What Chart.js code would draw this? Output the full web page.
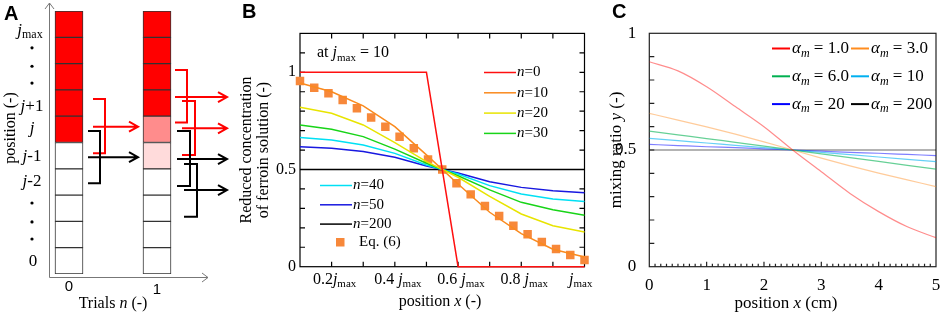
<!DOCTYPE html>
<html>
<head>
<meta charset="utf-8">
<script src="https://cdn.jsdelivr.net/npm/chart.js@4.4.1/dist/chart.umd.min.js"></script>
<style>
  body { margin: 0; background: #fff; width: 941px; height: 315px; position: relative; overflow: hidden; }
  canvas { position: absolute; top: 0; }
</style>
</head>
<body>
<canvas id="chartA" width="230" height="315" style="left:0px"></canvas>
<canvas id="chartB" width="370" height="315" style="left:230px"></canvas>
<canvas id="chartC" width="341" height="315" style="left:600px"></canvas>
<script>
// ---- panel A: cells, bottom (0) to top (jmax)
const trials = ['0', '1'];
const conc0 = [0, 0, 0, 0, 0, 1, 1, 1, 1, 1];
const conc1 = [0, 0, 0, 0, 0.14, 0.45, 1, 1, 1, 1];
const rowLabels = ['jmax', '.', '.', '.', 'j+1', 'j', 'j-1', 'j-2', '.', '.', '.', '0'];
const rowLabelPos = [9.2, 8.6, 7.9, 7.26, 6.35, 5.55, 4.45, 3.5, 2.7, 1.98, 1.33, 0.46];

// ---- panel B: n = trials, x in units of jmax
const posB = [0.1, 0.2, 0.3, 0.4, 0.5, 0.6, 0.7, 0.8, 0.9, 1.0];
const n0 = [1, 1, 1, 1, 1, 0, 0, 0, 0, 0];
const n10 = [0.945, 0.90, 0.827, 0.72, 0.575, 0.425, 0.28, 0.17, 0.09, 0.05];
const n20 = [0.82, 0.789, 0.729, 0.638, 0.54, 0.46, 0.362, 0.271, 0.211, 0.178];
const n30 = [0.729, 0.707, 0.669, 0.605, 0.532, 0.468, 0.395, 0.331, 0.293, 0.265];
const n40 = [0.664, 0.652, 0.626, 0.583, 0.523, 0.477, 0.417, 0.374, 0.348, 0.335];
const n50 = [0.617, 0.609, 0.592, 0.563, 0.518, 0.482, 0.437, 0.408, 0.391, 0.38];
const n200 = [0.5, 0.5, 0.5, 0.5, 0.5, 0.5, 0.5, 0.5, 0.5, 0.5];
const eqPos = [0.1, 0.145, 0.19, 0.235, 0.28, 0.325, 0.37, 0.415, 0.46, 0.505, 0.55,
               0.595, 0.64, 0.685, 0.73, 0.775, 0.82, 0.865, 0.91, 0.955, 1.0];
const eq6 = [0.955, 0.921, 0.892, 0.858, 0.815, 0.768, 0.72, 0.669, 0.609, 0.552, 0.5,
             0.429, 0.372, 0.312, 0.261, 0.211, 0.167, 0.127, 0.091, 0.06, 0.034];
const xTickLabelsB = ['0.2', '0.4 ', '0.6 ', '0.8 ', ''];

// ---- panel C: mixing ratio vs position (cm)
const posC = [0, 0.5, 1, 1.5, 2, 2.5, 3, 3.5, 4, 4.5, 5];
const alpha1 = [0.878, 0.839, 0.771, 0.686, 0.6, 0.5, 0.407, 0.314, 0.236, 0.171, 0.124];
const alpha3 = [0.657, 0.628, 0.599, 0.568, 0.535, 0.5, 0.465, 0.432, 0.401, 0.372, 0.343];
const alpha6 = [0.581, 0.565, 0.549, 0.533, 0.517, 0.5, 0.483, 0.467, 0.451, 0.434, 0.418];
const alpha10 = [0.55, 0.54, 0.53, 0.52, 0.51, 0.5, 0.49, 0.48, 0.47, 0.46, 0.45];
const alpha20 = [0.524, 0.519, 0.514, 0.51, 0.505, 0.5, 0.495, 0.49, 0.486, 0.481, 0.476];
const alpha200 = [0.5, 0.5, 0.5, 0.5, 0.5, 0.5, 0.5, 0.5, 0.5, 0.5, 0.5];
const alphaLabels = ['1.0', '3.0', '6.0', '10', '20', '200'];

const SERIF = '"Liberation Serif", "Times New Roman", serif';
const SANS = '"Liberation Sans", Arial, sans-serif';

// text made of pieces: '' normal, 'i' italic, 'sub' subscript, 'isub' italic subscript
function richText(ctx, parts, x, y, size, align) {
  const fontOf = k => {
    const s = (k === 'sub' || k === 'isub') ? Math.round(size * 0.68) : size;
    return ((k === 'i' || k === 'isub') ? 'italic ' : '') + s + 'px ' + SERIF;
  };
  let w = 0;
  parts.forEach(p => { ctx.font = fontOf(p[1]); w += ctx.measureText(p[0]).width; });
  let cx = align === 'center' ? x - w / 2 : align === 'right' ? x - w : x;
  ctx.textAlign = 'left';
  ctx.textBaseline = 'middle';
  parts.forEach(p => {
    ctx.font = fontOf(p[1]);
    const dy = (p[1] === 'sub' || p[1] === 'isub') ? size * 0.3 : 0;
    ctx.fillText(p[0], cx, y + dy);
    cx += ctx.measureText(p[0]).width;
  });
}

function panelLetter(ctx, letter, x, y) {
  ctx.fillStyle = '#000';
  ctx.font = 'bold 20px ' + SANS;
  ctx.textAlign = 'left';
  ctx.textBaseline = 'middle';
  ctx.fillText(letter, x, y);
}

// ================= A =================
function cellColor(c) {
  const g = Math.round(255 * (1 - c));
  return 'rgb(255,' + g + ',' + g + ')';
}

// mixing brackets: x in px, y in cell units
const RED = '#ff0000';
const brackets = [
  { x1: 93, xv: 105, top: 6.65, bottom: 4.59, y: 5.6, x2: 138, color: RED },
  { x1: 88, xv: 100, top: 5.44, bottom: 3.45, y: 4.44, x2: 138, color: '#000' },
  { x1: 175, xv: 187, top: 7.76, bottom: 5.76, y: 6.73, x2: 227, color: RED },
  { x1: 182, xv: 195, top: 6.58, bottom: 4.52, y: 5.54, x2: 227, color: RED },
  { x1: 177, xv: 190, top: 5.44, bottom: 3.35, y: 4.37, x2: 227, color: '#000' },
  { x1: 184, xv: 197, top: 4.18, bottom: 2.18, y: 3.19, x2: 227, color: '#000' }
];

const decorA = {
  id: 'decorA',
  afterDatasetsDraw(chart) {
    const { ctx, scales: { x, y } } = chart;
    ctx.save();
    // axes with open arrow heads
    ctx.strokeStyle = '#777';
    ctx.lineWidth = 1;
    ctx.beginPath();
    ctx.moveTo(49.5, 277.5); ctx.lineTo(49.5, 3);
    ctx.moveTo(45, 9); ctx.lineTo(49.5, 3); ctx.lineTo(54, 9);
    ctx.moveTo(49.5, 277.5); ctx.lineTo(208, 277.5);
    ctx.moveTo(202, 273); ctx.lineTo(208, 277.5); ctx.lineTo(202, 282);
    ctx.stroke();

    // brackets and arrows
    ctx.lineWidth = 2;
    brackets.forEach(b => {
      const t = y.getPixelForValue(b.top), bt = y.getPixelForValue(b.bottom), ay = y.getPixelForValue(b.y);
      ctx.strokeStyle = b.color;
      ctx.beginPath();
      ctx.moveTo(b.x1, t); ctx.lineTo(b.xv, t); ctx.lineTo(b.xv, bt); ctx.lineTo(b.x1, bt);
      ctx.moveTo(b.x1, ay); ctx.lineTo(b.x2, ay);
      ctx.moveTo(b.x2 - 9, ay - 5); ctx.lineTo(b.x2, ay); ctx.lineTo(b.x2 - 9, ay + 5);
      ctx.stroke();
    });

    // row labels
    ctx.fillStyle = '#000';
    rowLabels.forEach((lab, i) => {
      const py = y.getPixelForValue(rowLabelPos[i]);
      if (lab === '.') {
        ctx.beginPath(); ctx.arc(32, py, 1.6, 0, Math.PI * 2); ctx.fill();
      } else if (lab === 'jmax') {
        richText(ctx, [['j', 'i'], ['max', 'sub']], 30, py - 2, 17, 'center');
      } else if (lab === '0') {
        richText(ctx, [['0', '']], 33, py, 17, 'center');
      } else {
        richText(ctx, [['j', 'i'], [lab.slice(1), '']], 32, py, 17, 'center');
      }
    });

    // trial labels
    ctx.font = '15px ' + SANS;
    ctx.textAlign = 'center';
    ctx.textBaseline = 'middle';
    ctx.fillText(trials[0], x.getPixelForValue(0), 287);
    ctx.fillText(trials[1], x.getPixelForValue(1), 290);

    richText(ctx, [['Trials ', ''], ['n', 'i'], [' (-)', '']], 113, 304, 16, 'center');
    ctx.save();
    ctx.translate(11, 128);
    ctx.rotate(-Math.PI / 2);
    richText(ctx, [['position (-)', '']], 0, 0, 16, 'center');
    ctx.restore();

    panelLetter(ctx, 'A', 4, 14);
    ctx.restore();
  }
};

new Chart(document.getElementById('chartA'), {
  type: 'bar',
  data: {
    labels: trials,
    datasets: conc0.map((c, i) => ({
      data: [1, 1],
      backgroundColor: [cellColor(conc0[i]), cellColor(conc1[i])],
      borderColor: '#333',
      borderWidth: 1,
      borderSkipped: false,
      barThickness: 28
    }))
  },
  options: {
    responsive: false,
    animation: false,
    events: [],
    layout: { padding: { left: 25, right: 29, top: 11, bottom: 41 } },
    plugins: { legend: { display: false }, tooltip: { enabled: false } },
    scales: {
      x: { stacked: true, display: false },
      y: { stacked: true, min: 0, max: 10, display: false }
    }
  },
  plugins: [decorA]
});

// ================= B =================
const seriesB = [
  { n: '0', data: n0, color: '#ff1010' },
  { n: '10', data: n10, color: '#fa8a1e' },
  { n: '20', data: n20, color: '#e8e400' },
  { n: '30', data: n30, color: '#18d418' },
  { n: '40', data: n40, color: '#00e0f4' },
  { n: '50', data: n50, color: '#1818e0' },
  { n: '200', data: n200, color: '#000000' }
];
const SQUARE = '#f7883a';

const decorB = {
  id: 'decorB',
  beforeDatasetsDraw(chart) {
    const { ctx, chartArea: a, scales: { x, y } } = chart;
    ctx.save();
    ctx.strokeStyle = '#000';
    ctx.lineWidth = 1.2;
    ctx.strokeRect(a.left, a.top, a.right - a.left, a.bottom - a.top);
    ctx.beginPath();
    for (let k = 1; k <= 11; k++) {
      const py = y.getPixelForValue(k / 10);
      ctx.moveTo(a.left, py); ctx.lineTo(a.left + 5, py);
      ctx.moveTo(a.right, py); ctx.lineTo(a.right - 5, py);
    }
    for (let k = 2; k <= 9; k++) {
      const px = x.getPixelForValue(k / 10);
      ctx.moveTo(px, a.top); ctx.lineTo(px, a.top + 5);
      ctx.moveTo(px, a.bottom); ctx.lineTo(px, a.bottom - 5);
    }
    ctx.stroke();

    ctx.fillStyle = '#000';
    [[0, '0'], [0.5, '0.5'], [1, '1']].forEach(t => {
      richText(ctx, [[t[1], '']], a.left - 4, y.getPixelForValue(t[0]), 16, 'right');
    });
    xTickLabelsB.forEach((lab, i) => {
      const v = (i + 1) * 0.2;
      const px = x.getPixelForValue(v);
      if (i === 4) {
        richText(ctx, [['j', 'i'], ['max', 'sub']], px + 8, a.bottom + 13, 16, 'right');
      } else {
        richText(ctx, [[lab, ''], ['j', 'i'], ['max', 'sub']], px + 3, a.bottom + 13, 16, 'center');
      }
    });
    richText(ctx, [['position ', ''], ['x', 'i'], [' (-)', '']], 210, 302, 16, 'center');
    ctx.save();
    ctx.translate(17, 150);
    ctx.rotate(-Math.PI / 2);
    richText(ctx, [['Reduced concentration', '']], 0, 0, 16, 'center');
    richText(ctx, [['of ferroin solution (-)', '']], 0, 17, 16, 'center');
    ctx.restore();
    richText(ctx, [['at ', ''], ['j', 'i'], ['max', 'sub'], [' = 10', '']], 87, 53, 16, 'left');
    panelLetter(ctx, 'B', 12, 12);
    ctx.restore();
  },
  afterDatasetsDraw(chart) {
    const { ctx } = chart;
    ctx.save();
    ctx.lineWidth = 1.5;
    ctx.fillStyle = '#000';
    const item = (s, lx, ly) => {
      ctx.strokeStyle = s.color;
      ctx.beginPath(); ctx.moveTo(lx, ly); ctx.lineTo(lx + 32, ly); ctx.stroke();
      richText(ctx, [['n', 'i'], ['=' + s.n, '']], lx + 33, ly, 15, 'left');
    };
    seriesB.slice(0, 4).forEach((s, i) => item(s, 254, 72.5 + i * 20.3));
    seriesB.slice(4).forEach((s, i) => item(s, 90, 185.5 + i * 19.3));
    ctx.fillStyle = SQUARE;
    ctx.fillRect(106, 238, 8.5, 8.5);
    ctx.fillStyle = '#000';
    richText(ctx, [['Eq. (6)', '']], 129, 242, 15, 'left');
    ctx.restore();
  }
};

new Chart(document.getElementById('chartB'), {
  type: 'line',
  data: {
    datasets: seriesB.map(s => ({
      label: 'n=' + s.n,
      data: posB.map((p, i) => ({ x: p, y: s.data[i] })),
      borderColor: s.color,
      borderWidth: 1.5,
      pointRadius: 0,
      tension: 0,
      clip: 4
    })).concat([{
      label: 'Eq. (6)',
      data: eqPos.map((p, i) => ({ x: p, y: eq6[i] })),
      showLine: false,
      pointStyle: 'rect',
      pointRadius: 6,
      pointBackgroundColor: SQUARE,
      pointBorderWidth: 0,
      clip: 6
    }])
  },
  options: {
    responsive: false,
    animation: false,
    events: [],
    layout: { padding: { left: 70, right: 15.5, top: 33.4, bottom: 48.3 } },
    plugins: { legend: { display: false }, tooltip: { enabled: false } },
    scales: {
      x: { type: 'linear', min: 0.1, max: 1.0, display: false },
      y: { type: 'linear', min: 0, max: 1.2, display: false }
    }
  },
  plugins: [decorB]
});

// ================= C =================
const seriesC = [
  { data: alpha1, color: '255,0,0', fade: 0.45 },
  { data: alpha3, color: '255,140,30', fade: 0.45 },
  { data: alpha6, color: '0,176,80', fade: 0.6 },
  { data: alpha10, color: '0,176,240', fade: 0.6 },
  { data: alpha20, color: '0,0,255', fade: 0.5 },
  { data: alpha200, color: '0,0,0', fade: 0.4 }
];

const decorC = {
  id: 'decorC',
  beforeDatasetsDraw(chart) {
    const { ctx, chartArea: a, scales: { x, y } } = chart;
    ctx.save();
    ctx.strokeStyle = '#222';
    ctx.lineWidth = 1.2;
    ctx.strokeRect(a.left, a.top, a.right - a.left, a.bottom - a.top);
    ctx.beginPath();
    for (let k = 1; k <= 9; k++) {
      const py = y.getPixelForValue(k / 10);
      ctx.moveTo(a.left, py); ctx.lineTo(a.left + 5, py);
    }
    for (let k = 1; k < 50; k++) {
      const px = x.getPixelForValue(k / 10);
      ctx.moveTo(px, a.bottom); ctx.lineTo(px, a.bottom - (k % 10 === 0 ? 5 : 3));
    }
    ctx.stroke();
    ctx.fillStyle = '#000';
    [[0, '0'], [0.5, '0.5'], [1, '1']].forEach(t => {
      richText(ctx, [[t[1], '']], a.left - 13, y.getPixelForValue(t[0]), 17, 'right');
    });
    for (let k = 0; k <= 5; k++) {
      richText(ctx, [[String(k), '']], x.getPixelForValue(k), a.bottom + 19, 17, 'center');
    }
    richText(ctx, [['position ', ''], ['x', 'i'], [' (cm)', '']], 186, 304, 17, 'center');
    ctx.save();
    ctx.translate(17, 150);
    ctx.rotate(-Math.PI / 2);
    richText(ctx, [['mixing ratio ', ''], ['y', 'i'], [' (-)', '']], 0, 0, 17, 'center');
    ctx.restore();
    panelLetter(ctx, 'C', 12, 12);
    ctx.restore();
  },
  afterDatasetsDraw(chart) {
    const { ctx } = chart;
    ctx.save();
    ctx.lineWidth = 2;
    ctx.fillStyle = '#000';
    seriesC.forEach((s, i) => {
      const lx = i % 2 === 0 ? 172 : 251;
      const ly = 48.5 + Math.floor(i / 2) * 27.8;
      ctx.strokeStyle = 'rgb(' + s.color + ')';
      ctx.beginPath(); ctx.moveTo(lx, ly); ctx.lineTo(lx + 18, ly); ctx.stroke();
      richText(ctx, [['\u03b1', 'i'], ['m', 'isub'], [' = ' + alphaLabels[i], '']], lx + 20, ly, 17, 'left');
    });
    ctx.restore();
  }
};

new Chart(document.getElementById('chartC'), {
  type: 'line',
  data: {
    datasets: seriesC.map((s, i) => ({
      label: 'alpha_m = ' + alphaLabels[i],
      data: posC.map((p, k) => ({ x: p, y: s.data[k] })),
      borderColor: 'rgba(' + s.color + ',' + s.fade + ')',
      borderWidth: i === 5 ? 1.6 : 1.2,
      pointRadius: 0,
      cubicInterpolationMode: 'monotone'
    }))
  },
  options: {
    responsive: false,
    animation: false,
    events: [],
    layout: { padding: { left: 49.3, right: 5, top: 33.3, bottom: 48.3 } },
    plugins: { legend: { display: false }, tooltip: { enabled: false } },
    scales: {
      x: { type: 'linear', min: 0, max: 5, display: false },
      y: { type: 'linear', min: 0, max: 1, display: false }
    }
  },
  plugins: [decorC]
});
</script>
</body>
</html>
